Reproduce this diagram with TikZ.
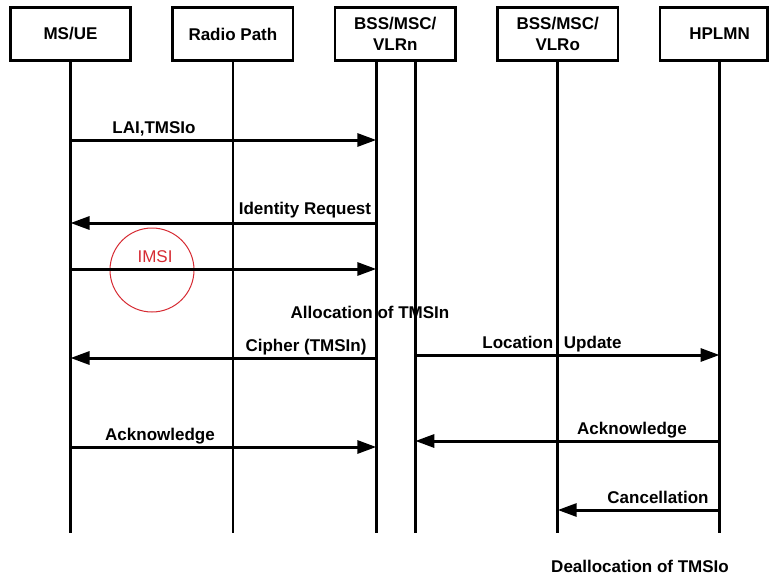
\documentclass[tikz,border=0pt]{standalone}
\usepackage{fontspec}
\setmainfont{Liberation Sans}
\usetikzlibrary{positioning}
\usetikzlibrary{arrows.meta}

\definecolor{imsired}{RGB}{214,44,52}
\newcommand{\msgfont}{\bfseries\fontsize{17}{21}\selectfont}

\begin{document}
\begin{tikzpicture}[x=1pt, y=-1pt
    , entity/.style={ draw
                    , line width=2.6pt
                    , minimum width=120.5pt
                    , minimum height=53.4pt
                    , inner sep=0pt
                    , align=center
                    , font=\msgfont
                    }
    , life/.style={line width=2.8pt}
    , msg/.style={line width=3pt, -{Triangle[length=19pt,width=13pt]}}
    , lbl/.style={font=\msgfont, inner sep=0pt, anchor=base}
    , node distance=39.3pt
    ]

  \useasboundingbox (0,0) rectangle (770,575);

  % entities
  \node (ue) [entity] at (70.5,34) {MS/UE};
  \node (radio) [entity, right = of ue] {Radio Path};
  \node (vlrn) [entity, right = of radio] {BSS/MSC/\\VLRn};
  \node (vlro) [entity, right = of vlrn] {BSS/MSC/\\VLRo};
  \node (hplmn) [entity, right = of vlro, minimum width=107.4pt] {\hspace*{12pt}HPLMN};

  % lifelines
  \coordinate (bottom) at (0,533);
  \coordinate (vlrnA) at ([xshift=-19pt]vlrn.south);
  \coordinate (vlrnB) at ([xshift=20pt]vlrn.south);
  \coordinate (hp) at ([xshift=6pt]hplmn.south);

  \foreach \lane in {ue.south, radio.south, vlrnA, vlrnB, vlro.south, hp}
    \draw [life] (\lane) -- (\lane |- bottom);

  % message levels
  \coordinate (m1) at (0,140);
  \coordinate (m2) at (0,223);
  \coordinate (m3) at (0,269);
  \coordinate (m4) at (0,358);
  \coordinate (m5) at (0,355);
  \coordinate (m6) at (0,447);
  \coordinate (m7) at (0,441);
  \coordinate (m8) at (0,510);

  \node (ring) [circle, draw=imsired, line width=1pt, minimum size=84pt, inner sep=0pt] at (152,270) {};

  \draw [msg] (ue.south |- m1) -- (vlrnA |- m1);
  \draw [msg] (vlrnA |- m2) -- (ue.south |- m2);
  \draw [msg] (ue.south |- m3) -- (vlrnA |- m3);
  \draw [msg] (vlrnA |- m4) -- (ue.south |- m4);
  \draw [msg] (vlrnB |- m5) -- (hp |- m5);
  \draw [msg] (ue.south |- m6) -- (vlrnA |- m6);
  \draw [msg] (hp |- m7) -- (vlrnB |- m7);
  \draw [msg] (hp |- m8) -- (vlro.south |- m8);

  % labels
  \node (lai)    [lbl] at (154,133) {LAI,TMSIo};
  \node (ident)  [lbl] at (305,214) {Identity Request};
  \node (imsi)   [lbl, font=\fontsize{17}{21}\selectfont, text=imsired] at (155,262) {IMSI};
  \node (alloc)  [lbl] at (370,318) {Allocation of TMSIn};
  \node (cipher) [lbl] at (306,351) {Cipher (TMSIn)};
  \node (locupd) [lbl] at (552,348) {Location\hspace{6pt} Update};
  \node (ackms)  [lbl] at (160,440) {Acknowledge};
  \node (ackhp)  [lbl] at (632,434) {Acknowledge};
  \node (cancel) [lbl] at (658,503) {Cancellation};
  \node (dealloc)[lbl] at (640,572) {Deallocation of TMSIo};

\end{tikzpicture}
\end{document}
